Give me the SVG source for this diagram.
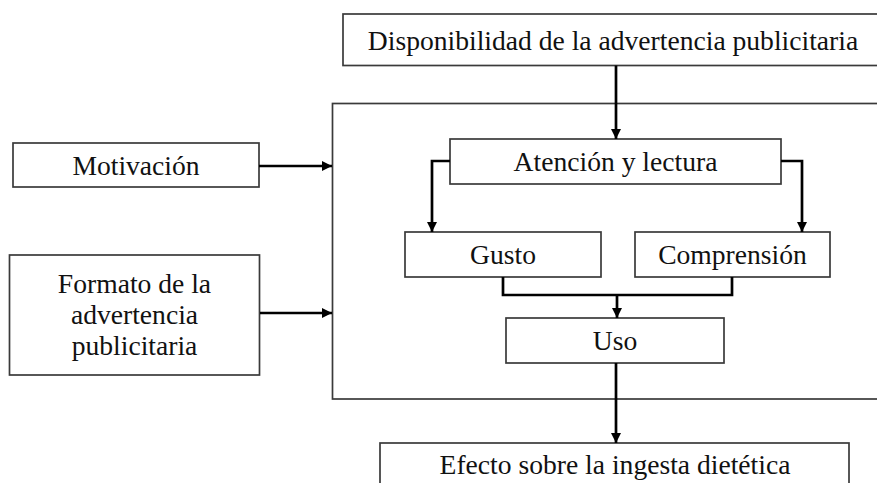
<svg xmlns="http://www.w3.org/2000/svg" width="877" height="483" viewBox="0 0 877 483">
<defs>
<marker id="ah" markerUnits="userSpaceOnUse" markerWidth="10" markerHeight="11" viewBox="0 0 10 11" refX="10" refY="5.5" orient="auto">
<path d="M0,0.5 L10,5.5 L0,10.5 Z" fill="#000"/>
</marker>
</defs>
<style>
.box{fill:#fff;stroke:#3a3a3a;stroke-width:1.7}
.t{font-family:"Liberation Serif","Times New Roman",serif;font-size:27.6px;fill:#111;text-anchor:middle}
.c{fill:none;stroke:#000;stroke-width:2.7}
</style>
<rect x="0" y="0" width="877" height="483" fill="#fff"/>
<g id="container"><rect class="box" x="332.5" y="103.5" width="560" height="295.5"/></g>
<g id="disponibilidad"><rect class="box" x="343" y="14" width="550" height="51.5"/><text class="t" x="613" y="49.5">Disponibilidad de la advertencia publicitaria</text></g>
<g id="motivacion"><rect class="box" x="13" y="143" width="246" height="44"/><text class="t" x="136" y="175">Motivación</text></g>
<g id="formato"><rect class="box" x="9.5" y="255" width="250" height="120"/><text class="t" x="134.5" y="293">Formato de la</text><text class="t" x="134.5" y="324">advertencia</text><text class="t" x="134.5" y="355">publicitaria</text></g>
<g id="atencion"><rect class="box" x="450" y="139" width="331" height="45"/><text class="t" x="615.5" y="171">Atención y lectura</text></g>
<g id="gusto"><rect class="box" x="405" y="232" width="196" height="45"/><text class="t" x="503" y="264">Gusto</text></g>
<g id="comprension"><rect class="box" x="635" y="232" width="195" height="45"/><text class="t" x="732.5" y="264">Comprensión</text></g>
<g id="uso"><rect class="box" x="506" y="318" width="218" height="45"/><text class="t" x="615" y="350">Uso</text></g>
<g id="efecto"><rect class="box" x="380" y="443" width="469" height="60"/><text class="t" x="615" y="474">Efecto sobre la ingesta dietética</text></g>
<g id="connectors">
<path class="c" d="M616,65.5 V139" marker-end="url(#ah)"/>
<path class="c" d="M450,161 H432 V232" marker-end="url(#ah)"/>
<path class="c" d="M781,161 H802 V232" marker-end="url(#ah)"/>
<path class="c" d="M503,277 V295 H732 V277"/>
<path class="c" d="M617,295 V318" marker-end="url(#ah)"/>
<path class="c" d="M616,363 V443" marker-end="url(#ah)"/>
<path class="c" d="M259,166 H332" marker-end="url(#ah)"/>
<path class="c" d="M260,313 H332" marker-end="url(#ah)"/>
</g>
</svg>
